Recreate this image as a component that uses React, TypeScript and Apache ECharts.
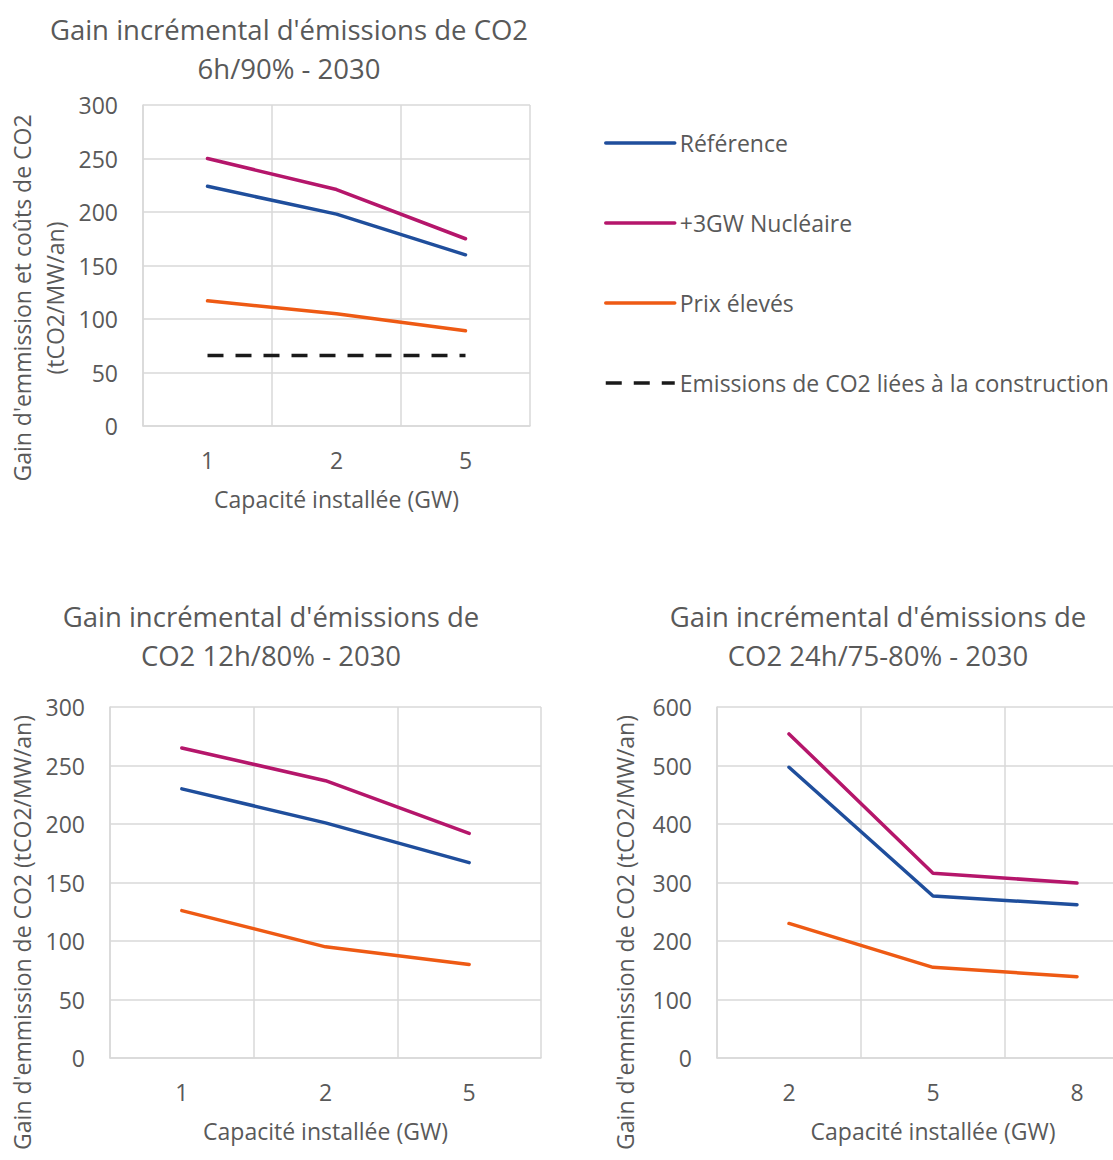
import React, { useEffect, useRef } from "react";
import * as echarts from "echarts";

const FONT = "'Open Sans', 'Noto Sans', sans-serif";
const TEXT = "#595959";
const GRID = "#d9d9d9";

const seriesNames = [
  "Référence",
  "+3GW Nucléaire",
  "Prix élevés",
  "Emissions de CO2 liées à la construction",
];
const seriesColors = ["#1f4e9c", "#b5166b", "#ee5a14", "#1a1a1a"];

const titles1 = ["Gain incrémental d'émissions de CO2", "6h/90% - 2030"];
const titles2 = ["Gain incrémental d'émissions de", "CO2 12h/80% - 2030"];
const titles3 = ["Gain incrémental d'émissions de", "CO2 24h/75-80% - 2030"];
const yName1 = ["Gain d'emmission et coûts de CO2", "(tCO2/MW/an)"];
const yName23 = "Gain d'emmission de CO2 (tCO2/MW/an)";
const xName = "Capacité installée (GW)";

// Chart 1 : 6h/90%
const cats1 = ["1", "2", "5"];
const ref1 = [224, 198, 160];
const nuc1 = [250, 221, 175];
const prix1 = [117, 105, 89];
const constr1 = [66, 66, 66];

// Chart 2 : 12h/80%
const cats2 = ["1", "2", "5"];
const ref2 = [230, 201, 167];
const nuc2 = [265, 237, 192];
const prix2 = [126, 95, 80];

// Chart 3 : 24h/75-80%
const cats3 = ["2", "5", "8"];
const ref3 = [497, 277, 262];
const nuc3 = [554, 316, 299];
const prix3 = [230, 155, 139];

const yMax12 = 300;
const yInt12 = 50;
const yMax3 = 600;
const yInt3 = 100;

const FS = 23;
const TFS = 27.5;

function xAxis(gridIndex: number, cats: string[]) {
  return {
    type: "category",
    gridIndex,
    data: cats,
    boundaryGap: true,
    axisLine: { show: true, lineStyle: { color: GRID, width: 1.5 } },
    axisTick: { show: false },
    splitLine: { show: true, lineStyle: { color: GRID, width: 1.5 } },
    axisLabel: { color: TEXT, fontSize: FS, fontFamily: FONT, margin: 22 },
    name: xName,
    nameLocation: "middle",
    nameGap: 61,
    nameTextStyle: { color: TEXT, fontSize: FS, fontFamily: FONT },
  };
}

function yAxis(gridIndex: number, max: number, interval: number) {
  return {
    type: "value",
    gridIndex,
    min: 0,
    max,
    interval,
    axisLine: { show: true, lineStyle: { color: GRID, width: 1.5 } },
    axisTick: { show: false },
    splitLine: { show: true, lineStyle: { color: GRID, width: 1.5 } },
    axisLabel: { color: TEXT, fontSize: FS, fontFamily: FONT, margin: 25 },
  };
}

function line(name: string, idx: number, data: number[], axis: number, dashed = false) {
  return {
    type: "line",
    name,
    data,
    xAxisIndex: axis,
    yAxisIndex: axis,
    symbol: "none",
    showSymbol: false,
    lineStyle: {
      color: seriesColors[idx],
      width: 3.5,
      type: dashed ? [16, 12] : "solid",
      cap: dashed ? "butt" : "round",
      join: "round",
    },
    itemStyle: { color: seriesColors[idx] },
  };
}

function txt(text: string, x: number, y: number, size: number, rotate = false, align = "center") {
  return {
    type: "text",
    x,
    y,
    rotation: rotate ? Math.PI / 2 : 0,
    style: {
      text,
      fill: TEXT,
      fontSize: size,
      fontFamily: FONT,
      align,
      textAlign: align,
      verticalAlign: "middle",
      textVerticalAlign: "middle",
    },
  };
}

export default function App() {
  const ref = useRef<HTMLDivElement>(null);
  useEffect(() => {
    if (!ref.current) return;
    const chart = echarts.init(ref.current, null, { renderer: "svg" });
    chart.setOption({
      animation: false,
      backgroundColor: "#ffffff",
      textStyle: { fontFamily: FONT },
      grid: [
        { left: 143, top: 105, width: 387, height: 321 },
        { left: 110, top: 707, width: 431, height: 351 },
        { left: 717, top: 707, width: 432, height: 351 },
      ],
      xAxis: [xAxis(0, cats1), xAxis(1, cats2), xAxis(2, cats3)],
      yAxis: [yAxis(0, yMax12, yInt12), yAxis(1, yMax12, yInt12), yAxis(2, yMax3, yInt3)],
      legend: {
        orient: "vertical",
        left: 604,
        top: 130,
        padding: 0,
        itemWidth: 69,
        itemHeight: 14,
        itemGap: 54,
        data: seriesNames,
        itemStyle: { opacity: 0 },
        lineStyle: { width: 3.5 },
        textStyle: { color: TEXT, fontSize: FS, fontFamily: FONT, lineHeight: 26 },
      },
      series: [
        line(seriesNames[0], 0, ref1, 0),
        line(seriesNames[1], 1, nuc1, 0),
        line(seriesNames[2], 2, prix1, 0),
        line(seriesNames[3], 3, constr1, 0, true),
        line(seriesNames[0], 0, ref2, 1),
        line(seriesNames[1], 1, nuc2, 1),
        line(seriesNames[2], 2, prix2, 1),
        line(seriesNames[0], 0, ref3, 2),
        line(seriesNames[1], 1, nuc3, 2),
        line(seriesNames[2], 2, prix3, 2),
      ],
      graphic: [
        txt(titles1[0], 289, 29, TFS),
        txt(titles1[1], 289, 68, TFS),
        txt(titles2[0], 271, 616, TFS),
        txt(titles2[1], 271, 655, TFS),
        txt(titles3[0], 878, 616, TFS),
        txt(titles3[1], 878, 655, TFS),
        txt(yName1[0], 22, 298, FS, true),
        txt(yName1[1], 55, 298, FS, true),
        txt(yName23, 22, 715, FS, true, "right"),
        txt(yName23, 625, 715, FS, true, "right"),
      ],
    });
    return () => chart.dispose();
  }, []);
  return (
    <div
      style={{
        position: "absolute",
        left: 0,
        top: 0,
        width: 1113,
        height: 1160,
        overflow: "hidden",
        background: "#ffffff",
      }}
    >
      <div ref={ref} style={{ width: 1160, height: 1160 }} />
    </div>
  );
}
